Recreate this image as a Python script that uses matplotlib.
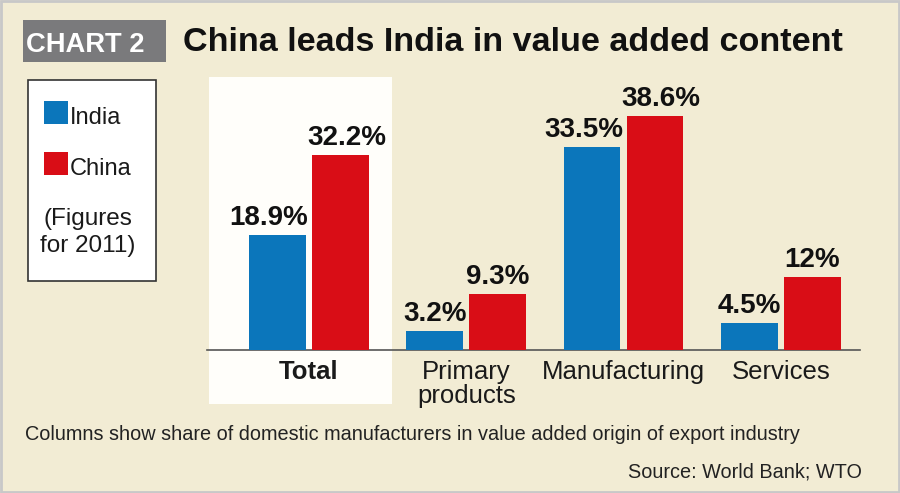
import matplotlib
matplotlib.use("Agg")
import matplotlib.pyplot as plt
from matplotlib import font_manager as fm
from matplotlib.patches import Rectangle
import numpy as np

# ---- data ----
categories = ["Total", "Primary\nproducts", "Manufacturing", "Services"]
india = [18.9, 3.2, 33.5, 4.5]
china = [32.2, 9.3, 38.6, 12.0]
series_names = ["India", "China"]
title = "China leads India in value added content"
tag = "CHART 2"
note = "(Figures\nfor 2011)"
footnote = "Columns show share of domestic manufacturers in value added origin of export industry"
source = "Source: World Bank; WTO"

# ---- style ----
BG = "#f2ecd4"
BLUE = "#0b76bb"
RED = "#d90d16"
TXT = "#1a1a1a"

names = {f.name for f in fm.fontManager.ttflist}
if "Liberation Sans Narrow" in names:
    NARROW, NS = "Liberation Sans Narrow", 1.0
else:
    NARROW, NS = "Liberation Sans", 0.82
REG = "Liberation Sans"
plt.rcParams["font.family"] = [REG, "DejaVu Sans"]

W, H = 900, 493
fig = plt.figure(figsize=(W / 100, H / 100), dpi=100)
fig.patch.set_facecolor(BG)

# overlay axes in pixel coordinates (y down)
ov = fig.add_axes([0, 0, 1, 1], zorder=0)
ov.set_xlim(0, W)
ov.set_ylim(H, 0)
ov.axis("off")

# outer border
ov.add_patch(Rectangle((1, 1), W - 2, H - 2, fill=False, ec="#c8c8c8", lw=2))
# highlight panel behind "Total"
ov.add_patch(Rectangle((209, 77), 183, 327, fc="#fffefa", ec="none"))

# tag box and title
ov.add_patch(Rectangle((23, 20), 143, 42, fc="#7a7a7c", ec="none"))
ov.text(85, 52, tag, color="white", fontsize=24 * NS, fontweight="bold",
        family=[NARROW, "DejaVu Sans"], ha="center", va="baseline")
ov.text(183, 51, title, color="#111111", fontsize=30 * NS, fontweight="bold",
        family=[NARROW, "DejaVu Sans"], ha="left", va="baseline")

# legend box
ov.add_patch(Rectangle((28, 80), 128, 201, fc="white", ec="#333333", lw=1.2))
for name, col, yb in zip(series_names, [BLUE, RED], [124, 175]):
    ov.add_patch(Rectangle((44, yb - 23), 24, 23, fc=col, ec="none"))
    ov.text(70, yb, name, fontsize=17, color=TXT, ha="left", va="baseline")
for line, yb in zip(note.split("\n"), [225, 252]):
    ov.text(88, yb, line, fontsize=17.5, color=TXT, ha="center", va="baseline")

# footnote + source
ov.text(25, 440, footnote, fontsize=17.4 * NS, color="#222222",
        family=[NARROW, "DejaVu Sans"], ha="left", va="baseline")
ov.text(862, 477, source, fontsize=17.4 * NS, color="#222222",
        family=[NARROW, "DejaVu Sans"], ha="right", va="baseline")

# ---- main bar axes ----
x0, x1, ybase, ytop = 207, 860, 350, 77
ax = fig.add_axes([x0 / W, (H - ybase) / H, (x1 - x0) / W, (ybase - ytop) / H], zorder=2)
ax.set_facecolor("none")
x = np.arange(len(categories))
bw, off = 0.36, 0.2
ax.bar(x - off, india, bw, color=BLUE, zorder=3)
ax.bar(x + off, china, bw, color=RED, zorder=3)
ax.set_xlim(-0.648, 3.503)
ax.set_ylim(0, 45)
for s in ["top", "right", "left"]:
    ax.spines[s].set_visible(False)
ax.spines["bottom"].set_color("#555555")
ax.spines["bottom"].set_linewidth(1.2)
ax.set_yticks([])
ax.set_xticks(x)
ax.set_xticklabels(categories, fontsize=18.5, color=TXT, linespacing=1.0)
ax.tick_params(axis="x", length=0, pad=7.5)
ax.get_xticklabels()[0].set_fontweight("bold")

for xi, v in zip(x, india):
    lab = f"{v:g}%"
    dx = -6.1 if len(lab) > 4 else 0
    ax.annotate(lab, (xi - off, v), xytext=(dx, 7.2), textcoords="offset points",
                ha="center", va="baseline", fontsize=20, fontweight="bold", color="#111111")
for xi, v in zip(x, china):
    lab = f"{v:g}%"
    dx = 4.3 if len(lab) > 4 else 0
    ax.annotate(lab, (xi + off, v), xytext=(dx, 7.2), textcoords="offset points",
                ha="center", va="baseline", fontsize=20, fontweight="bold", color="#111111")

fig.savefig("out.png", dpi=100, facecolor=BG)
